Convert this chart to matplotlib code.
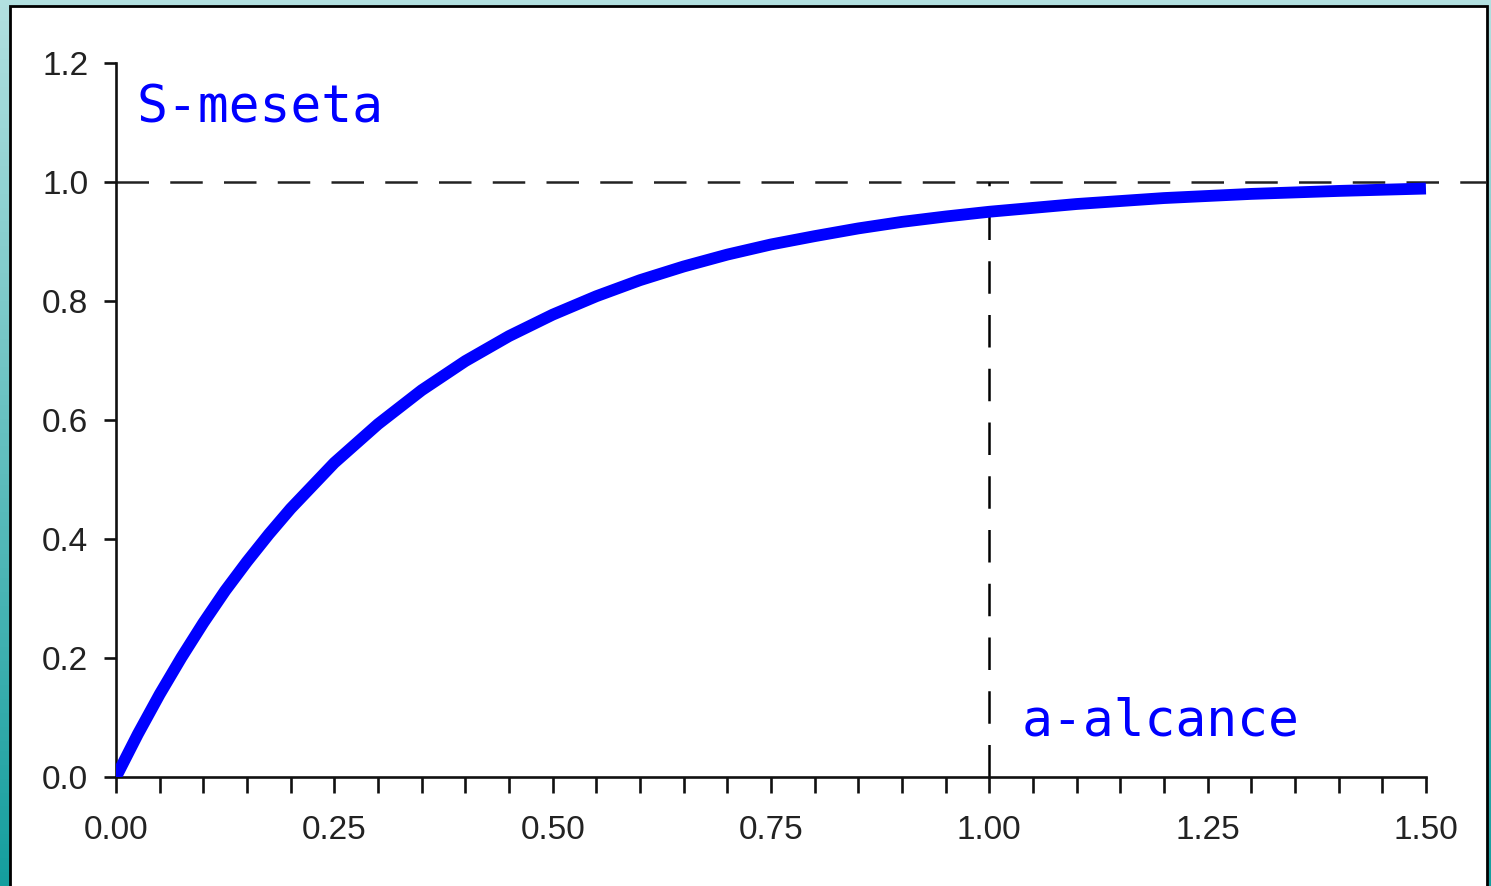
import matplotlib.pyplot as plt
import numpy as np
from matplotlib.patches import Rectangle

# valores (variograma)
h = [0.0, 0.025, 0.05, 0.075, 0.1, 0.125, 0.15, 0.175, 0.2, 0.25, 0.3, 0.35,
     0.4, 0.45, 0.5, 0.55, 0.6, 0.65, 0.7, 0.75, 0.8, 0.85, 0.9, 0.95, 1.0,
     1.1, 1.2, 1.3, 1.4, 1.5]
gamma = [0.0, 0.072, 0.139, 0.201, 0.259, 0.313, 0.362, 0.408, 0.451, 0.528,
         0.593, 0.650, 0.699, 0.741, 0.777, 0.808, 0.835, 0.858, 0.878, 0.895,
         0.909, 0.922, 0.933, 0.942, 0.950, 0.963, 0.973, 0.980, 0.985, 0.989]
meseta = 1.0
alcance = 1.0
xticks = [0.0, 0.25, 0.5, 0.75, 1.0, 1.25, 1.5]
xlabels = ['0.00', '0.25', '0.50', '0.75', '1.00', '1.25', '1.50']
yticks = [0.0, 0.2, 0.4, 0.6, 0.8, 1.0, 1.2]
ylabels = ['0.0', '0.2', '0.4', '0.6', '0.8', '1.0', '1.2']

W, H = 1491, 886
fig = plt.figure(figsize=(W / 100, H / 100), dpi=100)

# fondo con degradado
bg = fig.add_axes([0, 0, 1, 1], zorder=-2)
bg.set_axis_off()
top = np.array([0.70, 0.88, 0.88])
bot = np.array([0.08, 0.62, 0.62])
t = np.linspace(0, 1, 256)[:, None]
grad = (top * (1 - t) + bot * t)[:, None, :]
bg.imshow(grad, aspect='auto', extent=[0, 1, 0, 1])
bg.set_xlim(0, 1)
bg.set_ylim(0, 1)
bg.add_patch(Rectangle((10 / W, -0.01), (1487 - 10) / W, (H - 6) / H + 0.01,
                       facecolor='white', edgecolor='black', linewidth=2))

ax = fig.add_axes([116 / W, (H - 777) / H, (1487 - 116) / W, (777 - 63) / H])
ax.patch.set_visible(False)

ax.plot(h, gamma, color='#0000ff', linewidth=8.5, solid_capstyle='butt',
        solid_joinstyle='round', zorder=3)
ax.axhline(meseta, color='#222222', linewidth=1.8, dashes=(13, 8.5), zorder=2)
ax.plot([alcance, alcance], [0, meseta], color='black', linewidth=1.8,
        dashes=(13, 8.5), zorder=2)

ax.text(0.024, 1.10, 'S-meseta', color='#0000ff', fontsize=37,
        family='DejaVu Sans Mono', ha='left', va='baseline')
ax.text(1.037, 0.069, 'a-alcance', color='#0000ff', fontsize=37,
        family='DejaVu Sans Mono', ha='left', va='baseline')

ax.set_xlim(0, (1487 - 116) / 873.3)
ax.set_ylim(0, 1.2)
ax.spines['top'].set_visible(False)
ax.spines['right'].set_visible(False)
ax.spines['bottom'].set_bounds(0, 1.5)
ax.spines['left'].set_bounds(0, 1.2)
for s in ['left', 'bottom']:
    ax.spines[s].set_linewidth(1.9)
    ax.spines[s].set_color('#111111')

ax.set_xticks(xticks)
ax.set_xticklabels(xlabels)
ax.set_xticks(np.arange(0, 1.5001, 0.05), minor=True)
ax.set_yticks(yticks)
ax.set_yticklabels(ylabels)
ax.tick_params(axis='x', which='both', direction='out', length=11.5, width=1.9,
               color='#111111', pad=16, labelsize=24, labelcolor='#222222')
ax.tick_params(axis='y', direction='out', length=9, width=1.9,
               color='#111111', pad=11, labelsize=24, labelcolor='#222222')
for lab in ax.get_xticklabels() + ax.get_yticklabels():
    lab.set_family('Liberation Sans')

fig.savefig('out.png', dpi=100)
